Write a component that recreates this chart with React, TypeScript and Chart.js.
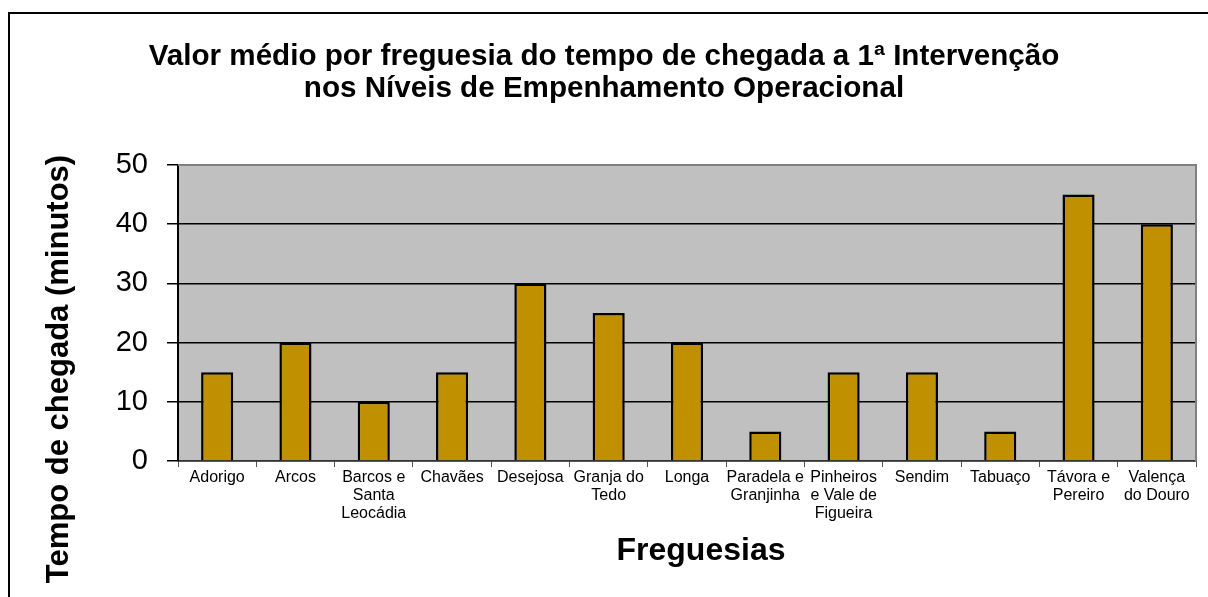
import React, { useEffect, useRef } from "react";
import { Chart, registerables } from "chart.js";

Chart.register(...registerables);

const categories: string[][] = [
  ["Adorigo"],
  ["Arcos"],
  ["Barcos e", "Santa", "Leocádia"],
  ["Chavães"],
  ["Desejosa"],
  ["Granja do", "Tedo"],
  ["Longa"],
  ["Paradela e", "Granjinha"],
  ["Pinheiros", "e Vale de", "Figueira"],
  ["Sendim"],
  ["Tabuaço"],
  ["Távora e", "Pereiro"],
  ["Valença", "do Douro"],
];
const values = [15, 20, 10, 15, 30, 25, 20, 5, 15, 15, 5, 45, 40];
const yTicks = [0, 10, 20, 30, 40, 50];
const titleLines = [
  "Valor médio por freguesia do tempo de chegada a 1ª Intervenção",
  "nos Níveis de Empenhamento Operacional",
];
const xTitle = "Freguesias";
const yTitle = "Tempo de chegada (minutos)";

const FONT = "'Liberation Sans', Arial, Helvetica, sans-serif";

const decor = {
  id: "decor",
  beforeDraw(chart: any) {
    const { ctx, chartArea: a } = chart;
    ctx.save();
    ctx.fillStyle = "#ffffff";
    ctx.fillRect(0, 0, chart.width, chart.height);
    ctx.strokeStyle = "#000000";
    ctx.lineWidth = 2;
    ctx.beginPath();
    ctx.moveTo(9, chart.height + 5);
    ctx.lineTo(9, 13);
    ctx.lineTo(chart.width + 5, 13);
    ctx.stroke();
    ctx.fillStyle = "#c0c0c0";
    ctx.fillRect(a.left, a.top, a.right - a.left, a.bottom - a.top);
    ctx.restore();
  },
  beforeDatasetsDraw(chart: any) {
    const { ctx, chartArea: a } = chart;
    ctx.save();
    ctx.strokeStyle = "#808080";
    ctx.lineWidth = 2;
    ctx.beginPath();
    ctx.moveTo(a.left, a.top);
    ctx.lineTo(a.right, a.top);
    ctx.lineTo(a.right, a.bottom);
    ctx.stroke();
    ctx.restore();
  },
  afterDraw(chart: any) {
    const { ctx, chartArea: a } = chart;
    ctx.save();
    ctx.fillStyle = "#000000";
    ctx.textAlign = "center";
    ctx.textBaseline = "middle";
    ctx.font = `bold 32px ${FONT}`;
    ctx.fillText(xTitle, (a.left + a.right) / 2 + 14, 551);
    ctx.translate(59, 369);
    ctx.rotate(-Math.PI / 2);
    ctx.font = `bold 31px ${FONT}`;
    ctx.fillText(yTitle, 0, 0);
    ctx.restore();
  },
};

export default function App() {
  const ref = useRef<HTMLCanvasElement | null>(null);
  useEffect(() => {
    if (!ref.current) return;
    const chart = new Chart(ref.current, {
      type: "bar",
      data: {
        labels: categories,
        datasets: [
          {
            data: values,
            backgroundColor: "#C09000",
            borderColor: "#000000",
            borderWidth: 2.5,
            categoryPercentage: 1,
            barPercentage: 0.41,
          },
        ],
      },
      options: {
        responsive: false,
        animation: false,
        layout: { padding: { left: 12, right: 12, top: 0, bottom: 0 } },
        plugins: {
          legend: { display: false },
          tooltip: { enabled: false },
          title: {
            display: true,
            text: titleLines,
            color: "#000000",
            font: { family: FONT, size: 29.6, weight: "bold", lineHeight: 32.5 / 29.6 },
            padding: { top: 40.5, bottom: 59.5 },
          },
        },
        scales: {
          x: {
            grid: {
              drawOnChartArea: false,
              drawTicks: true,
              tickLength: 6,
              tickColor: "#555555",
              offset: true,
            },
            border: { color: "#333333", width: 1.5 },
            ticks: {
              color: "#000000",
              font: { family: FONT, size: 16, lineHeight: 18 / 16 },
              padding: 2,
              maxRotation: 0,
              autoSkip: false,
            },
            afterFit: (s: any) => {
              s.height = 136;
            },
          },
          y: {
            min: 0,
            max: 50,
            afterBuildTicks: (s: any) => {
              s.ticks = yTicks.map((v) => ({ value: v }));
            },
            ticks: {
              color: "#000000",
              padding: 19,
              font: { family: FONT, size: 29 },
            },
            grid: {
              color: (c: any) => (c.tick && c.tick.value === 50 ? "#808080" : "#000000"),
              lineWidth: 1.5,
              tickLength: 11,
              tickColor: "#000000",
              drawTicks: true,
            },
            border: { display: true, color: "#000000", width: 2 },
            afterFit: (s: any) => {
              s.width = 166;
            },
          },
        },
      },
      plugins: [decor],
    } as any);
    return () => chart.destroy();
  }, []);
  return (
    <div style={{ position: "absolute", left: 0, top: 0, width: 1208, height: 597 }}>
      <canvas ref={ref} width={1208} height={597} style={{ display: "block" }} />
    </div>
  );
}
